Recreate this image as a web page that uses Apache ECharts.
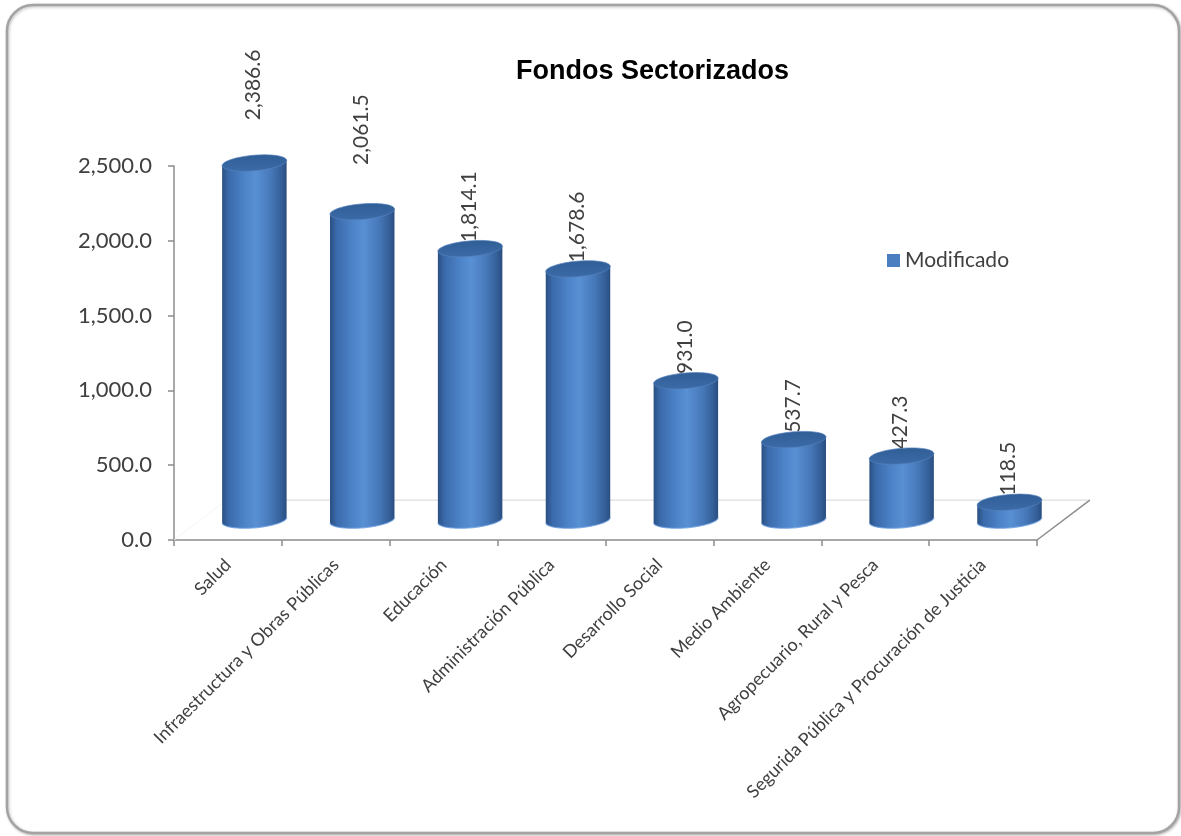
<!DOCTYPE html>
<html>
<head>
<meta charset="utf-8">
<title>Fondos Sectorizados</title>
<script src="https://cdn.jsdelivr.net/npm/echarts@6/dist/echarts.min.js"></script>
<style>
  html, body { margin: 0; padding: 0; background: #ffffff; }
  #chart { width: 1181px; height: 836px; }
</style>
</head>
<body>
<div id="chart"></div>
<script>
// Sector names (category axis)
const categories = [
  'Salud',
  'Infraestructura y Obras Públicas',
  'Educación',
  'Administración Pública',
  'Desarrollo Social',
  'Medio Ambiente',
  'Agropecuario, Rural y Pesca',
  'Segurida Pública y Procuración de Justicia'
];
// Modified budget per sector
const modificado = [2386.6, 2061.5, 1814.1, 1678.6, 931.0, 537.7, 427.3, 118.5];
const seriesName = 'Modificado';
const chartTitle = 'Fondos Sectorizados';
// Value axis range and step
const yMin = 0;
const yMax = 2500;
const yStep = 500;

// Extra upward offset of the value label for each column (px)
const labelLift = [36, 40, 0, 0, 0, 0, 0, 0];

const FONT = 'Lato, "Open Sans", sans-serif';
const TEXT_GREY = '#404040';
const AXIS_GREY = '#8c8c8c';

function fmt(v) {
  const fixed = Number(v).toFixed(1);
  const parts = fixed.split('.');
  parts[0] = parts[0].replace(/\B(?=(\d{3})+(?!\d))/g, ',');
  return parts.join('.');
}

// Points on a tilted ellipse between parameter angles t0..t1
function ellipsePts(cx, cy, rx, ry, th, t0, t1, n) {
  const c = Math.cos(th), s = Math.sin(th);
  const pts = [];
  for (let k = 0; k <= n; k++) {
    const t = t0 + (t1 - t0) * k / n;
    const ex = rx * Math.cos(t), ey = ry * Math.sin(t);
    pts.push([cx + ex * c - ey * s, cy + ex * s + ey * c]);
  }
  return pts;
}

// One 3D-looking cylinder per category, standing half-way into the floor depth
function renderCylinder(params, api) {
  const idx = params.dataIndex;
  const cat = api.value(0);
  const v = api.value(1);
  const base = api.coord([cat, 0]);
  const top = api.coord([cat, v]);
  const band = api.size([1, 0])[0];
  const depthX = band * 0.245, depthY = band * 0.185;
  const rx = band * 0.30, ry = band * 0.072;
  const th = -0.085;
  const c = Math.cos(th), s = Math.sin(th);
  const cx = base[0] + depthX;
  const yb = base[1] - depthY;
  const yt = top[1] - depthY;

  const bottomArc = ellipsePts(cx, yb, rx, ry, th, 0, Math.PI, 48);
  const body = [[cx - rx * c, yt - rx * s], [cx + rx * c, yt + rx * s]].concat(bottomArc);
  const cap = ellipsePts(cx, yt, rx, ry, th, 0, Math.PI * 2, 64);

  const bodyFill = new echarts.graphic.LinearGradient(0, 0, 1, 0, [
    { offset: 0.00, color: '#2a4f82' },
    { offset: 0.10, color: '#3a6aaa' },
    { offset: 0.35, color: '#4d83c8' },
    { offset: 0.52, color: '#5890d4' },
    { offset: 0.75, color: '#4779ba' },
    { offset: 0.92, color: '#345f98' },
    { offset: 1.00, color: '#2a4d7f' }
  ]);
  const capFill = new echarts.graphic.LinearGradient(0, 0, 0, 1, [
    { offset: 0, color: '#305d95' },
    { offset: 1, color: '#3b6ba8' }
  ]);

  return {
    type: 'group',
    children: [
      {
        type: 'text',
        x: cx - 1,
        y: yt - ry + 1 - labelLift[idx],
        rotation: Math.PI / 2,
        style: {
          text: fmt(v),
          fill: TEXT_GREY,
          fontSize: 21,
          fontFamily: FONT,
          align: 'left',
          verticalAlign: 'middle'
        }
      },
      { type: 'polygon', shape: { points: body }, style: { fill: bodyFill } },
      { type: 'polyline', shape: { points: bottomArc }, style: { stroke: 'rgba(110,160,225,0.8)', lineWidth: 1.2, fill: null } },
      { type: 'polygon', shape: { points: cap }, style: { fill: capFill, stroke: 'rgba(85,130,190,0.7)', lineWidth: 1 } }
    ]
  };
}

// Floor of the 3D plot area: back edge and right side edge
function renderFloor(params, api) {
  const cs = params.coordSys;
  const band = cs.width / categories.length;
  const dX = band * 0.49, dY = band * 0.37;
  const x0 = cs.x, x1 = cs.x + cs.width, y0 = cs.y + cs.height;
  return {
    type: 'group',
    children: [
      { type: 'line', shape: { x1: x0 + dX, y1: y0 - dY, x2: x1 + dX, y2: y0 - dY }, style: { stroke: '#dedede', lineWidth: 1.2 } },
      { type: 'line', shape: { x1: x0, y1: y0, x2: x0 + dX, y2: y0 - dY }, style: { stroke: '#f5f5f5', lineWidth: 1 } },
      { type: 'line', shape: { x1: x1, y1: y0, x2: x1 + dX, y2: y0 - dY }, style: { stroke: AXIS_GREY, lineWidth: 1.5 } }
    ]
  };
}

const chart = echarts.init(document.getElementById('chart'), null, { renderer: 'canvas' });

chart.setOption({
  animation: false,
  backgroundColor: '#ffffff',
  graphic: [
    {
      type: 'rect',
      z: -10,
      shape: { x: 7, y: 5, width: 1172, height: 828, r: 26 },
      style: {
        fill: '#ffffff',
        stroke: '#a3a3a3',
        lineWidth: 2.5,
        shadowColor: 'rgba(0,0,0,0.25)',
        shadowBlur: 3,
        shadowOffsetX: 1,
        shadowOffsetY: 1
      }
    }
  ],
  title: {
    text: chartTitle,
    left: 516,
    top: 58,
    padding: 0,
    textStyle: {
      fontFamily: '"Liberation Sans", Arial, sans-serif',
      fontWeight: 'bold',
      fontSize: 27,
      color: '#000000'
    }
  },
  legend: {
    data: [{ name: seriesName, icon: 'rect' }],
    left: 887,
    top: 250,
    padding: 0,
    itemWidth: 13,
    itemHeight: 13,
    textStyle: { fontFamily: FONT, fontSize: 21, color: TEXT_GREY }
  },
  grid: { left: 174, right: 144, top: 166, bottom: 296, containLabel: false },
  xAxis: {
    type: 'category',
    data: categories,
    axisLine: { show: true, lineStyle: { color: AXIS_GREY, width: 1.5 } },
    axisTick: { show: true, alignWithLabel: false, interval: 0, length: 6, lineStyle: { color: AXIS_GREY, width: 1.5 } },
    axisLabel: {
      interval: 0,
      rotate: 45,
      margin: 22,
      fontFamily: FONT,
      fontSize: 18,
      color: TEXT_GREY
    },
    splitLine: { show: false }
  },
  yAxis: {
    type: 'value',
    min: yMin,
    max: yMax,
    interval: yStep,
    axisLine: { show: true, lineStyle: { color: AXIS_GREY, width: 1.5 } },
    axisTick: { show: true, length: 6, lineStyle: { color: AXIS_GREY, width: 1.5 } },
    axisLabel: {
      formatter: fmt,
      margin: 22,
      fontFamily: FONT,
      fontSize: 22,
      color: TEXT_GREY
    },
    splitLine: { show: false }
  },
  series: [
    {
      type: 'custom',
      name: 'floor',
      silent: true,
      z: 1,
      renderItem: renderFloor,
      data: [[0, 0]],
      encode: { x: 0, y: 1 }
    },
    {
      type: 'custom',
      name: seriesName,
      z: 2,
      itemStyle: { color: '#4a7ec0' },
      renderItem: renderCylinder,
      data: modificado.map((v, i) => [i, v]),
      encode: { x: 0, y: 1 }
    }
  ]
});
</script>
</body>
</html>
